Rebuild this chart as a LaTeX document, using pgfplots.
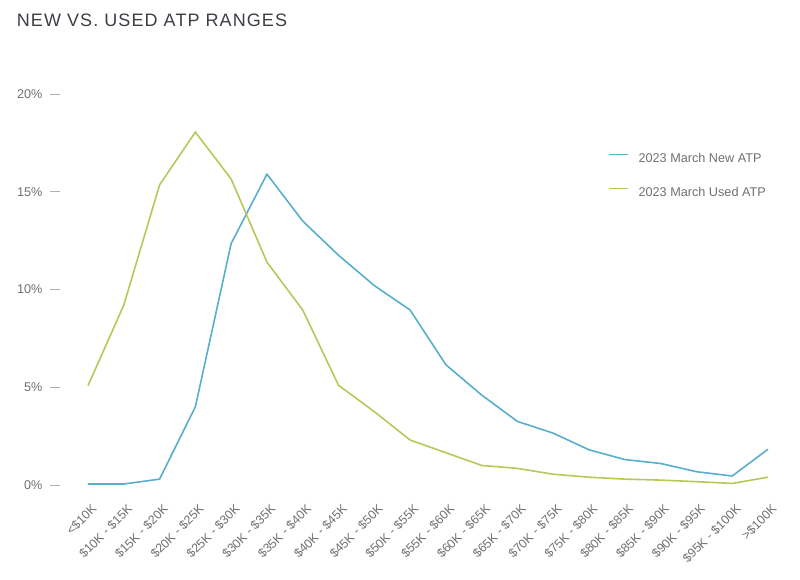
\documentclass[border=0pt]{standalone}
\usepackage{pgfplots}
\pgfplotsset{compat=1.18}
\usepackage{fontspec}
\setmainfont{Liberation Sans}

\definecolor{newblue}{RGB}{88,175,202}
\definecolor{usedgreen}{RGB}{186,199,88}
\definecolor{ticktext}{RGB}{112,112,115}
\definecolor{tickdash}{RGB}{175,175,178}
\definecolor{titletext}{RGB}{60,62,68}

% Share of transactions by average transaction price range (percent)
% idx: 0 = <$10K, 1 = $10K-$15K, ..., 18 = $95K-$100K, 19 = >$100K
\begin{document}
\begin{tikzpicture}
\begin{axis}[
  at={(66pt,71.25pt)}, anchor=south west,
  scale only axis, width=510pt, height=293.25pt,
  xmin=0, xmax=19, ymin=0, ymax=20,
  clip=false,
  axis line style={draw=none},
  tick style={draw=none},
  xtick={0,...,19},
  xticklabels={{<\$10K},{\$10K - \$15K},{\$15K - \$20K},{\$20K - \$25K},{\$25K - \$30K},
    {\$30K - \$35K},{\$35K - \$40K},{\$40K - \$45K},{\$45K - \$50K},{\$50K - \$55K},
    {\$55K - \$60K},{\$60K - \$65K},{\$65K - \$70K},{\$70K - \$75K},{\$75K - \$80K},
    {\$80K - \$85K},{\$85K - \$90K},{\$90K - \$95K},{\$95K - \$100K},{>\$100K}},
  xticklabel style={rotate=45, anchor=north east, inner sep=0pt,
    font=\fontsize{9.3pt}{11pt}\selectfont, text=ticktext, xshift=-8.2pt, yshift=-11.1pt},
  ytick={0,5,10,15,20},
  /pgf/number format/assume math mode=true,
  yticklabel={\pgfmathprintnumber{\tick}\%\hspace{6pt}\textcolor{tickdash}{\rule[0.3em]{7.5pt}{0.6pt}}},
  yticklabel style={inner sep=0pt, xshift=-20.5pt, text=ticktext,
    font=\fontsize{9.5pt}{11pt}\selectfont},
  legend cell align=left,
  legend style={draw=none, fill=none, at={(rel axis cs:0.765,0.855)}, anchor=north west,
    font=\fontsize{9.5pt}{11pt}\selectfont, text=ticktext,
    row sep=13pt, inner sep=0pt},
  legend image code/.code={
    \draw[#1] (0pt,3.4pt) -- (14pt,3.4pt);
    \path[draw=none, fill=none] (0pt,3.4pt) -- (20pt,3.4pt);},
]
\addplot[newblue, line width=1.2pt] coordinates {
  (0,0.05) (1,0.05) (2,0.3) (3,4.0) (4,12.35) (5,15.9) (6,13.5) (7,11.75)
  (8,10.2) (9,8.95) (10,6.15) (11,4.6) (12,3.25) (13,2.65) (14,1.8)
  (15,1.3) (16,1.1) (17,0.68) (18,0.46) (19,1.83)
};
\addlegendentry{2023 March New ATP}
\addplot[usedgreen, line width=1.2pt] coordinates {
  (0,5.08) (1,9.2) (2,15.35) (3,18.05) (4,15.65) (5,11.4) (6,8.95) (7,5.1)
  (8,3.75) (9,2.3) (10,1.65) (11,1.0) (12,0.85) (13,0.55) (14,0.4)
  (15,0.3) (16,0.25) (17,0.17) (18,0.08) (19,0.4)
};
\addlegendentry{2023 March Used ATP}
\end{axis}
\node[anchor=base west, inner sep=0pt, text=titletext,
  font=\fontsize{13.5pt}{16pt}\selectfont\addfontfeature{LetterSpace=6}]
  at (12.5pt,415pt) {NEW VS. USED ATP RANGES};
\pgfresetboundingbox
\path (0,0) rectangle (600pt,435pt);
\end{tikzpicture}
\end{document}
